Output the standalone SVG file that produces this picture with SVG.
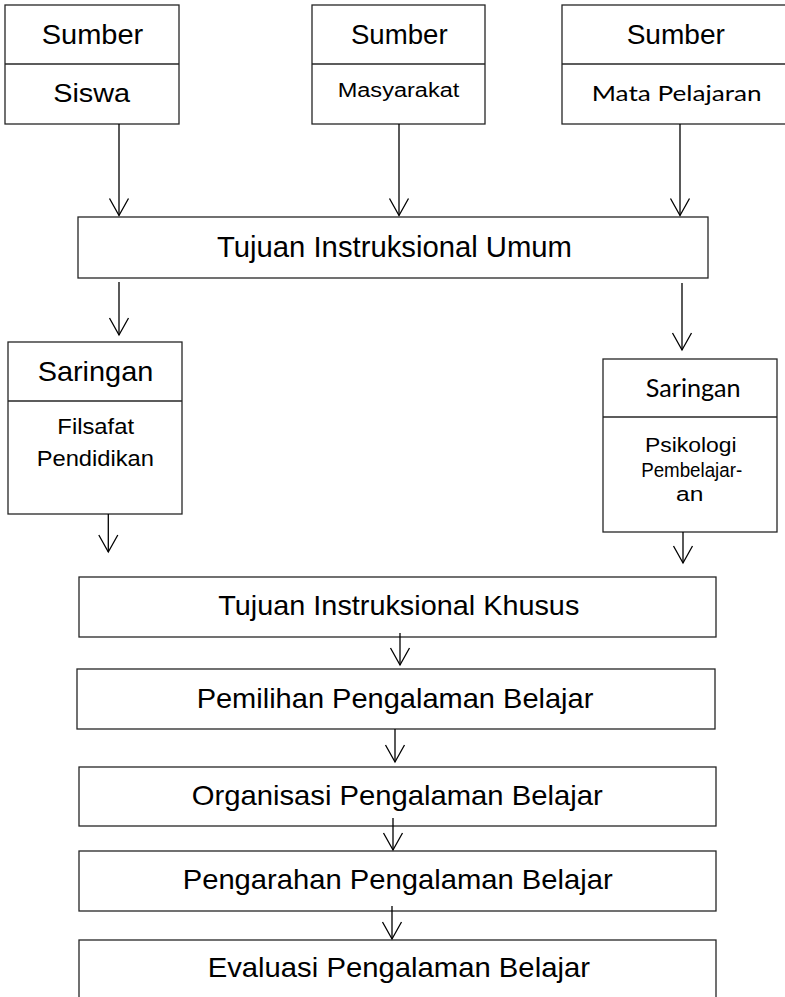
<svg xmlns="http://www.w3.org/2000/svg" width="785" height="997" viewBox="0 0 785 997">
  <style>
    .box { fill: #ffffff; stroke: #262626; stroke-width: 1.3; }
    .div { stroke: #262626; stroke-width: 1.3; }
    .t { font-family: "Liberation Sans", Arial, sans-serif; fill: #000000; text-anchor: middle; }
    .c { font-family: Lato, "Liberation Sans", sans-serif; fill: #000000; text-anchor: middle; }
    .wire { stroke: #000000; stroke-width: 1.3; fill: none; marker-end: url(#vhead); }
  </style>
  <defs>
    <marker id="vhead" markerUnits="userSpaceOnUse" markerWidth="40" markerHeight="40" refX="0" refY="0" orient="auto" overflow="visible">
      <path d="M-17,-9.5 L0,0 L-17,9.5" fill="none" stroke="#000000" stroke-width="1.3"/>
    </marker>
  </defs>
  <rect width="785" height="997" fill="#ffffff"/>

  <!-- sources -->
  <g id="sumber-siswa">
    <rect class="box" x="5" y="5" width="174" height="119"/>
    <line class="div" x1="5" y1="64" x2="179" y2="64"/>
    <text class="t" x="92.5" y="44" font-size="27" textLength="101.6" lengthAdjust="spacingAndGlyphs">Sumber</text>
    <text class="t" x="91.7" y="101.7" font-size="26.5" textLength="77" lengthAdjust="spacingAndGlyphs">Siswa</text>
  </g>
  <g id="sumber-masyarakat">
    <rect class="box" x="312" y="5" width="173" height="119"/>
    <line class="div" x1="312" y1="64" x2="485" y2="64"/>
    <text class="t" x="399.3" y="44" font-size="27" textLength="96.7" lengthAdjust="spacingAndGlyphs">Sumber</text>
    <text class="t" x="398.5" y="97" font-size="20" textLength="121.6" lengthAdjust="spacingAndGlyphs">Masyarakat</text>
  </g>
  <g id="sumber-mapel">
    <rect class="box" x="562" y="5" width="230" height="119"/>
    <line class="div" x1="562" y1="64" x2="792" y2="64"/>
    <text class="t" x="675.8" y="44" font-size="27" textLength="98.3" lengthAdjust="spacingAndGlyphs">Sumber</text>
    <text class="c" x="676.7" y="101" font-size="21" textLength="170" lengthAdjust="spacingAndGlyphs">Mata Pelajaran</text>
  </g>

  <!-- general objectives -->
  <g id="tiu">
    <rect class="box" x="78" y="217" width="630" height="61"/>
    <text class="t" x="394.5" y="257" font-size="29.5" textLength="355" lengthAdjust="spacingAndGlyphs">Tujuan Instruksional Umum</text>
  </g>

  <!-- filters -->
  <g id="saringan-filsafat">
    <rect class="box" x="8" y="342" width="174" height="172"/>
    <line class="div" x1="8" y1="401" x2="182" y2="401"/>
    <text class="t" x="95.5" y="381" font-size="28" textLength="115.7" lengthAdjust="spacingAndGlyphs">Saringan</text>
    <text class="t" x="95.7" y="434" font-size="22" textLength="76.7" lengthAdjust="spacingAndGlyphs">Filsafat</text>
    <text class="t" x="95.3" y="466" font-size="22" textLength="117.3" lengthAdjust="spacingAndGlyphs">Pendidikan</text>
  </g>
  <g id="saringan-psikologi">
    <rect class="box" x="603" y="359" width="174" height="173"/>
    <line class="div" x1="603" y1="417" x2="777" y2="417"/>
    <text class="c" x="693.2" y="397" font-size="25.5" textLength="95" lengthAdjust="spacingAndGlyphs">Saringan</text>
    <text class="t" x="690.8" y="452" font-size="20.5" textLength="91.7" lengthAdjust="spacingAndGlyphs">Psikologi</text>
    <text class="t" x="691.7" y="476.5" font-size="20.5" textLength="101" lengthAdjust="spacingAndGlyphs">Pembelajar-</text>
    <text class="t" x="689.7" y="501" font-size="20.5" textLength="27.3" lengthAdjust="spacingAndGlyphs">an</text>
  </g>

  <!-- specific objectives and learning experience steps -->
  <g id="tik">
    <rect class="box" x="79" y="577" width="637" height="60"/>
    <text class="t" x="398.8" y="615" font-size="28" textLength="361" lengthAdjust="spacingAndGlyphs">Tujuan Instruksional Khusus</text>
  </g>
  <g id="pemilihan">
    <rect class="box" x="77" y="669" width="638" height="60"/>
    <text class="t" x="395" y="708" font-size="28" textLength="396.7" lengthAdjust="spacingAndGlyphs">Pemilihan Pengalaman Belajar</text>
  </g>
  <g id="organisasi">
    <rect class="box" x="79" y="767" width="637" height="59"/>
    <text class="t" x="397.2" y="805" font-size="28" textLength="411" lengthAdjust="spacingAndGlyphs">Organisasi Pengalaman Belajar</text>
  </g>
  <g id="pengarahan">
    <rect class="box" x="79" y="851" width="637" height="60"/>
    <text class="t" x="397.7" y="889" font-size="28" textLength="430" lengthAdjust="spacingAndGlyphs">Pengarahan Pengalaman Belajar</text>
  </g>
  <g id="evaluasi">
    <rect class="box" x="79" y="940" width="637" height="70"/>
    <text class="t" x="398.8" y="977" font-size="28" textLength="382.3" lengthAdjust="spacingAndGlyphs">Evaluasi Pengalaman Belajar</text>
  </g>

  <!-- connectors -->
  <g id="connectors">
    <line class="wire" x1="119" y1="124" x2="119" y2="215.5"/>
    <line class="wire" x1="399" y1="124" x2="399" y2="215.5"/>
    <line class="wire" x1="680" y1="124" x2="680" y2="215.5"/>
    <line class="wire" x1="119" y1="282" x2="119" y2="335"/>
    <line class="wire" x1="682" y1="283" x2="682" y2="350"/>
    <line class="wire" x1="108.3" y1="514" x2="108.3" y2="552"/>
    <line class="wire" x1="683" y1="532" x2="683" y2="563"/>
    <line class="wire" x1="400" y1="633" x2="400" y2="665"/>
    <line class="wire" x1="395" y1="729" x2="395" y2="762"/>
    <line class="wire" x1="393" y1="818" x2="393" y2="850"/>
    <line class="wire" x1="392" y1="906" x2="392" y2="939"/>
  </g>
</svg>
